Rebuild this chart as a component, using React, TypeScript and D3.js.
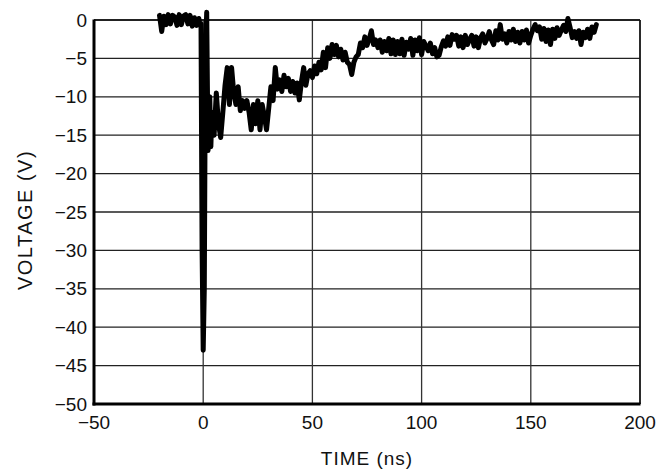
import React from "react";
import * as d3 from "d3";

const xTicks = [-50, 0, 50, 100, 150, 200];
const yTicks = [0, -5, -10, -15, -20, -25, -30, -35, -40, -45, -50];

const timeNs = [
  -20, -19, -18, -17, -16, -15, -14, -13, -12, -11, -10, -9, -8, -7, -6, -5, -4, -3, -2, -1.5,
  -1, -0.5, 0, 0.5, 1, 1.6, 2.2, 3, 3.5, 4, 5, 6, 7, 8, 9, 10,
  11, 12, 13, 14, 15, 16, 17, 18, 19, 20,
  21, 22, 23, 24, 25, 26, 27, 28, 29, 30,
  31, 32, 33, 34, 35, 36, 37, 38, 39, 40,
  41, 42, 43, 44, 45, 46, 47, 48, 49, 50,
  51, 52, 53, 54, 55, 56, 57, 58, 59, 60,
  61, 62, 63, 64, 65, 66, 67, 68, 69, 70,
  71, 72, 73, 74, 75, 76, 77, 78, 79, 80,
  81, 82, 83, 84, 85, 86, 87, 88, 89, 90,
  91, 92, 93, 94, 95, 96, 97, 98, 99, 100,
  101, 102, 103, 104, 105, 106, 107, 108, 109, 110,
  111, 112, 113, 114, 115, 116, 117, 118, 119, 120,
  121, 122, 123, 124, 125, 126, 127, 128, 129, 130,
  131, 132, 133, 134, 135, 136, 137, 138, 139, 140,
  141, 142, 143, 144, 145, 146, 147, 148, 149, 150,
  151, 152, 153, 154, 155, 156, 157, 158, 159, 160,
  161, 162, 163, 164, 165, 166, 167, 168, 169, 170,
  171, 172, 173, 174, 175, 176, 177, 178, 179, 180,
];

const voltageV = [
  0.6, -1.5, 0.5, -0.6, 0.7, -0.5, 0.6, 0.4, -0.7, 0.7, -0.6, 0.5, 0.7, -0.5, 0.6, -0.8, 0.3, -0.7, 0.2, -0.6,
  -0.5, -30, -43, -35, -5, 1.0, -17, -10, -16.5, -12, -15, -9.5, -13.5, -15.3, -12, -8.5,
  -6.2, -11, -6.2, -9.5, -11, -8.7, -11.8, -10.5, -11.5, -10.5,
  -12, -14.3, -11, -13.5, -10.5, -14.3, -11, -12.5, -14.3, -11.5,
  -8.7, -10.5, -6.2, -9, -7.8, -9.3, -7.2, -8.7, -7.6, -9.3,
  -8, -9.5, -8.2, -10.4, -8, -6.2, -8.5, -7, -6.6, -7.5,
  -6, -7, -5.5, -6.5, -4.2, -6.2, -3.6, -5, -3.2, -4.5,
  -3.3, -4.8, -3.8, -5.2, -4.2, -5.5, -5.8, -7.1, -5.5, -4.8,
  -4.5, -3, -3.6, -2.2, -3.3, -2.5, -1.4, -3.2, -2.6, -3.6,
  -2.6, -4.2, -2.8, -4.0, -2.4, -4.4, -2.6, -4.5, -2.8, -4.4,
  -2.5, -4.6, -2.9, -3.8, -2.4, -4.6, -2.6, -4.0, -2.3, -4.5,
  -2.8, -3.4, -4.0, -3.0, -4.4, -3.6, -4.8, -4.6, -3.5, -2.7,
  -3.4, -2.2, -3.3, -1.9, -2.5, -2.0, -3.4, -2.2, -3.6, -2.0,
  -3.2, -2.5, -2.0, -3.4, -2.2, -3.6, -2.3, -1.8, -3.0, -2.4,
  -1.5, -2.6, -3.2, -1.4, -2.6, -0.6, -2.5, -1.8, -3.0, -1.5,
  -2.6, -1.2, -2.8, -1.6, -3.0, -1.5, -2.6, -1.3, -3.0, -2.0,
  -1.2, -0.6, -1.4, -0.9, -2.5, -1.1, -2.8, -1.3, -3.2, -1.2,
  -2.4, -1.0, -2.0, -1.3, -0.7, -1.5, 0.2, -1.0, -2.3, -1.5,
  -2.4, -1.4, -3.2, -1.6, -2.3, -1.2, -2.4, -0.9, -1.6, -0.6,
];

const W = 671;
const H = 471;
const margin = { left: 94, right: 31, top: 20, bottom: 67 };
const FONT = "'Liberation Sans', Arial, Helvetica, sans-serif";

export default function App() {
  const x = d3.scaleLinear().domain([-50, 200]).range([margin.left, W - margin.right]);
  const y = d3.scaleLinear().domain([-50, 0]).range([H - margin.bottom, margin.top]);
  const pts: [number, number][] = timeNs.map((t, i) => [t, voltageV[i]]);
  const line = d3
    .line<[number, number]>()
    .x((d) => x(d[0]))
    .y((d) => y(d[1]));
  const x0 = x(-50), x1 = x(200), y0 = y(-50), y1 = y(0);
  const fmt = (v: number) => (v < 0 ? "\u2212" + Math.abs(v) : String(v));
  return (
    <svg
      width={W}
      height={H}
      style={{ position: "absolute", left: 0, top: 0, background: "#fff" }}
    >
      <rect x={0} y={0} width={W} height={H} fill="#fff" />
      {yTicks.map((v) => (
        <line key={"gy" + v} x1={x0} x2={x1} y1={y(v)} y2={y(v)} stroke="#222" strokeWidth={1.3} />
      ))}
      {xTicks.map((v) => (
        <line key={"gx" + v} x1={x(v)} x2={x(v)} y1={y1} y2={y0} stroke="#333" strokeWidth={1.3} />
      ))}
      <line x1={x0} x2={x1} y1={y1} y2={y1} stroke="#111" strokeWidth={1.5} />
      <line x1={x1} x2={x1} y1={y1} y2={y0} stroke="#111" strokeWidth={1.5} />
      <path
        d={line(pts) || ""}
        fill="none"
        stroke="#000"
        strokeWidth={5}
        strokeLinejoin="round"
        strokeLinecap="round"
      />
      <line x1={x0} x2={x0} y1={y1 - 0.5} y2={y0 + 1.5} stroke="#000" strokeWidth={3} />
      <line x1={x0 - 1.5} x2={x1 + 0.5} y1={y0} y2={y0} stroke="#000" strokeWidth={3} />
      {yTicks.map((v) => (
        <text
          key={"ty" + v}
          x={87}
          y={y(v) + 6.5}
          textAnchor="end"
          fontFamily={FONT}
          fontSize={19}
          fill="#111"
        >
          {fmt(v)}
        </text>
      ))}
      {xTicks.map((v) => (
        <text
          key={"tx" + v}
          x={x(v)}
          y={429}
          textAnchor="middle"
          fontFamily={FONT}
          fontSize={19}
          fill="#111"
        >
          {fmt(v)}
        </text>
      ))}
      <text
        x={(x0 + x1) / 2}
        y={465}
        textAnchor="middle"
        fontFamily={FONT}
        fontSize={19}
        letterSpacing={1}
        fill="#111"
      >
        TIME (ns)
      </text>
      <text
        transform={`translate(32, 220) rotate(-90)`}
        textAnchor="middle"
        fontFamily={FONT}
        fontSize={20}
        letterSpacing={1.5}
        fill="#111"
      >
        VOLTAGE (V)
      </text>
    </svg>
  );
}
